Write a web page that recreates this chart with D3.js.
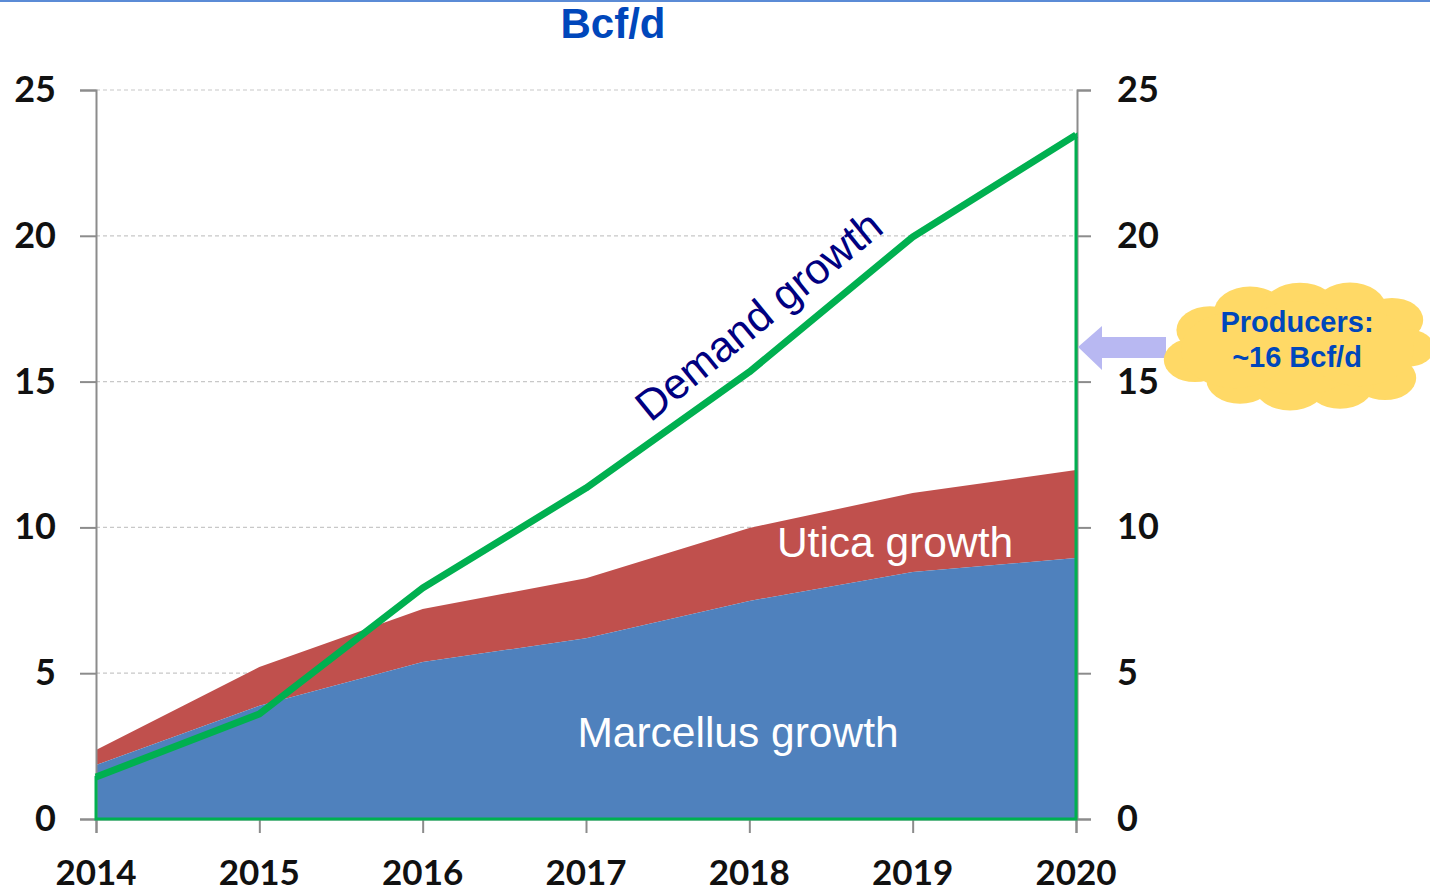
<!DOCTYPE html>
<html><head><meta charset="utf-8">
<script src="https://cdn.jsdelivr.net/npm/d3@7"></script>
<style>body{margin:0;background:#fff}svg{display:block}</style>
</head><body>
<svg id="c" width="1430" height="894"></svg>
<script>
const years = [2014, 2015, 2016, 2017, 2018, 2019, 2020];
const marcellus = [1.85, 3.88, 5.38, 6.2, 7.48, 8.47, 8.95];
const utica = [0.52, 1.33, 1.82, 2.06, 2.5, 2.71, 3.02];
const demand = [1.44, 3.6, 7.92, 11.35, 15.33, 19.96, 23.46];
const yTicks = [0, 5, 10, 15, 20, 25];

const svg = d3.select("#c");
const x = d3.scalePoint().domain(years).range([96, 1076]);
const y = d3.scaleLinear().domain([0, 25]).range([819, 90]);

// top border line
svg.append("rect").attr("x",0).attr("y",0).attr("width",1430).attr("height",2).attr("fill","#5B8BD6");

// gridlines
svg.append("g").selectAll("line").data(yTicks.filter(d=>d>0)).join("line")
  .attr("x1",96).attr("x2",1076).attr("y1",d=>y(d)).attr("y2",d=>y(d))
  .attr("stroke","#c8c8c8").attr("stroke-width",1.2).attr("stroke-dasharray","4,3");

const totals = marcellus.map((m,i)=>m+utica[i]);
const areaU = d3.area().x((d,i)=>x(years[i])).y0((d,i)=>y(marcellus[i])).y1(d=>y(d));
const areaM = d3.area().x((d,i)=>x(years[i])).y0(y(0)).y1(d=>y(d));
svg.append("path").datum(totals).attr("d",areaU).attr("fill","#C0504D");
svg.append("path").datum(marcellus).attr("d",areaM).attr("fill","#4F81BD");

// axes
const axL = svg.append("g").attr("transform","translate(96,0)")
  .call(d3.axisLeft(y).tickValues(yTicks).tickSize(16).tickFormat(""));
const axR = svg.append("g").attr("transform","translate(1077,0)")
  .call(d3.axisRight(y).tickValues(yTicks).tickSize(14).tickFormat(""));
const axB = svg.append("g").attr("transform","translate(0,819)")
  .call(d3.axisBottom(x).tickSize(14).tickFormat(""));
[axL,axR,axB].forEach(a=>{
  a.selectAll("path").attr("stroke","#8c8c8c").attr("stroke-width",2);
  a.selectAll("line").attr("stroke","#8c8c8c").attr("stroke-width",2);
});

// demand outline (area with green border) and thick line
const demArea = d3.area().x((d,i)=>x(years[i])).y0(y(0)).y1(d=>y(d));
svg.append("path").datum(demand).attr("d",demArea).attr("fill","none")
  .attr("stroke","#00B050").attr("stroke-width",3);
const demLine = d3.line().x((d,i)=>x(years[i])).y(d=>y(d));
svg.append("path").datum(demand).attr("d",demLine).attr("fill","none")
  .attr("stroke","#00B050").attr("stroke-width",7).attr("stroke-linejoin","round");

// tick labels
const lab = "font-family:Lato,'Open Sans',sans-serif;font-weight:700;font-size:36px;fill:#111";
svg.append("g").selectAll("text").data(yTicks).join("text")
  .attr("x",56).attr("y",d=>y(d)+12).attr("text-anchor","end").attr("style",lab).text(d=>d);
svg.append("g").selectAll("text").data(yTicks).join("text")
  .attr("x",1117).attr("y",d=>y(d)+12).attr("text-anchor","start").attr("style",lab).text(d=>d);
svg.append("g").selectAll("text").data(years).join("text")
  .attr("x",d=>x(d)).attr("y",885).attr("text-anchor","middle")
  .attr("style","font-family:Lato,'Open Sans',sans-serif;font-weight:700;font-size:35px;fill:#111").text(d=>d);

// title
svg.append("text").attr("x",613).attr("y",38).attr("text-anchor","middle")
  .attr("style","font-family:'Liberation Sans',Arial,sans-serif;font-weight:700;font-size:42px;fill:#0047BB").text("Bcf/d");

// series labels
svg.append("text").attr("x",895).attr("y",557).attr("text-anchor","middle")
  .attr("style","font-family:'Liberation Sans',Arial,sans-serif;font-size:42.5px;fill:#fff").text("Utica growth");
svg.append("text").attr("x",738).attr("y",747).attr("text-anchor","middle")
  .attr("style","font-family:'Liberation Sans',Arial,sans-serif;font-size:42.5px;fill:#fff").text("Marcellus growth");
svg.append("text").attr("transform","translate(768,327) rotate(-39.2)").attr("text-anchor","middle")
  .attr("style","font-family:'Liberation Sans',Arial,sans-serif;font-size:43px;fill:#000080").text("Demand growth");

// arrow
svg.append("path").attr("d","M1078,347 L1102,326 L1102,337 L1166,337 L1166,358 L1102,358 L1102,370 Z")
  .attr("fill","#B8B8F2");

// cloud
const cloud = svg.append("g").attr("fill","#FFD966");
const bumps = [[1210,330,28],[1250,312,30],[1300,310,32],[1350,308,30],[1392,320,26],[1408,348,22],[1385,378,26],[1340,385,28],[1290,385,30],[1240,380,28],[1195,360,26],[1300,348,55],[1235,350,45],[1360,348,45]];
cloud.selectAll("ellipse").data(bumps).join("ellipse")
  .attr("cx",d=>d[0]).attr("cy",d=>d[1]).attr("rx",d=>d[2]*1.2).attr("ry",d=>d[2]*0.85);
svg.append("text").attr("x",1297).attr("y",332).attr("text-anchor","middle")
  .attr("style","font-family:'Liberation Sans',Arial,sans-serif;font-weight:700;font-size:29px;fill:#0047BB").text("Producers:");
svg.append("text").attr("x",1297).attr("y",367).attr("text-anchor","middle")
  .attr("style","font-family:'Liberation Sans',Arial,sans-serif;font-weight:700;font-size:29px;fill:#0047BB").text("~16 Bcf/d");
</script>
</body></html>
